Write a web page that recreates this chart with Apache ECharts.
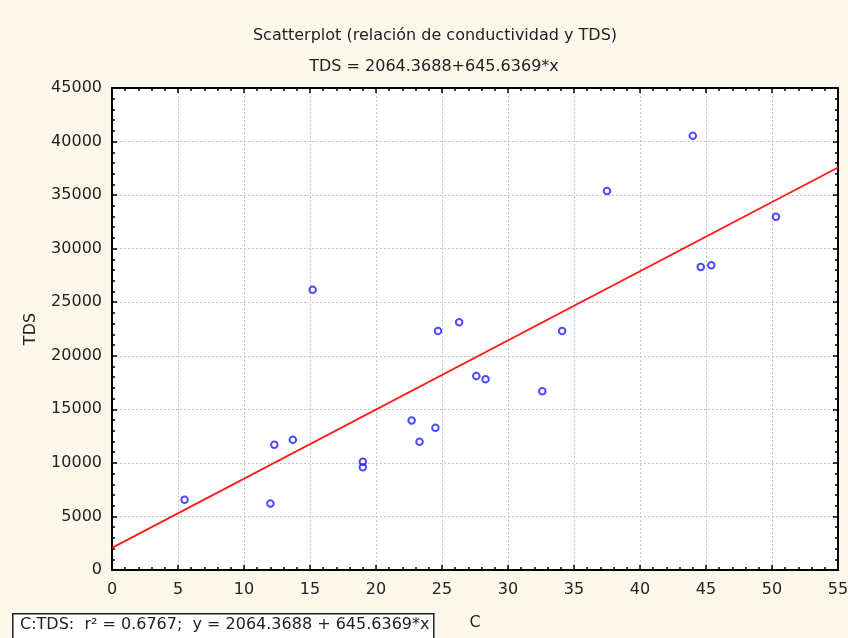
<!DOCTYPE html>
<html>
<head>
<meta charset="utf-8">
<script src="https://cdn.jsdelivr.net/npm/echarts@6/dist/echarts.min.js"></script>
<style>
html, body { margin: 0; padding: 0; background: #fdf8ec; }
#graph { width: 848px; height: 638px; }
</style>
</head>
<body>
<div id="graph"></div>
<script>
// conductividad (C) y TDS
var condC = [5.5, 12.0, 12.3, 13.7, 15.2, 19.0, 19.0, 22.7, 23.3, 24.5, 24.7, 26.3, 27.6, 28.3, 32.6, 34.1, 37.5, 44.0, 44.6, 45.4, 50.3];
var tdsVal = [6550, 6200, 11700, 12170, 26170, 9600, 10110, 13950, 11980, 13290, 22310, 23130, 18110, 17800, 16680, 22310, 35380, 40550, 28290, 28450, 32990];
// recta de ajuste, extremos leidos
var fitX = [0, 55];
var fitY = [2064, 37574];
var xTicks = [0, 55, 5];
var yTicks = [0, 45000, 5000];

var fontFam = '"DejaVu Sans", Arial, sans-serif';

function graphRender() {
	var myChart = echarts.init(document.getElementById('graph'));

	var points = [];
	for (let i = 0; i < condC.length; i++) {
		points.push([condC[i], tdsVal[i]]);
	}
	var line = [];
	for (let i = 0; i < fitX.length; i++) {
		line.push([fitX[i], fitY[i]]);
	}

	var gridLine = { show: true, lineStyle: { color: '#c4c4c4', type: [2, 2], width: 1 } };
	var frameLine = { show: true, onZero: false, lineStyle: { color: '#000', width: 2 } };
	var tickIn = { show: true, inside: true, length: 5, lineStyle: { color: '#000', width: 1.5 } };
	var minorIn = { show: true, splitNumber: 5, length: 3, lineStyle: { color: '#000', width: 1.5 } };
	var labelStyle = { color: '#222', fontSize: 16, fontFamily: fontFam };

	var option = {
		backgroundColor: '#fdf8ec',
		animation: false,
		title: [{
			text: 'Scatterplot (relación de conductividad y TDS)',
			left: 430, top: 23, textAlign: 'center',
			textStyle: { fontSize: 16, fontWeight: 'normal', color: '#222', fontFamily: fontFam }
		}, {
			text: 'TDS = 2064.3688+645.6369*x',
			left: 429, top: 54, textAlign: 'center',
			textStyle: { fontSize: 16, fontWeight: 'normal', color: '#222', fontFamily: fontFam }
		}],
		grid: {
			left: 112, right: 10, top: 88, bottom: 68,
			outerBoundsMode: 'none', containLabel: false,
			show: true, backgroundColor: '#fff', borderWidth: 0
		},
		xAxis: [{
			type: 'value', min: xTicks[0], max: xTicks[1], interval: xTicks[2],
			name: 'C', nameLocation: 'middle', nameGap: 45,
			nameTextStyle: labelStyle,
			axisLine: frameLine, axisTick: tickIn, minorTick: minorIn,
			splitLine: gridLine,
			axisLabel: Object.assign({ margin: 12 }, labelStyle)
		}, {
			type: 'value', position: 'top', min: xTicks[0], max: xTicks[1], interval: xTicks[2],
			axisLine: frameLine, axisTick: tickIn, minorTick: minorIn,
			splitLine: { show: false }, axisLabel: { show: false }
		}],
		yAxis: [{
			type: 'value', min: yTicks[0], max: yTicks[1], interval: yTicks[2],
			name: 'TDS', nameLocation: 'middle', nameGap: 73,
			nameTextStyle: labelStyle,
			axisLine: frameLine, axisTick: tickIn, minorTick: minorIn,
			splitLine: gridLine,
			axisLabel: Object.assign({ margin: 10, formatter: function (v) { return String(v); } }, labelStyle)
		}, {
			type: 'value', position: 'right', min: yTicks[0], max: yTicks[1], interval: yTicks[2],
			axisLine: frameLine, axisTick: tickIn, minorTick: minorIn,
			splitLine: { show: false }, axisLabel: { show: false }
		}],
		series: [{
			type: 'line',
			data: line,
			showSymbol: false,
			lineStyle: { color: '#ff1a1a', width: 1.8 },
			z: 3
		}, {
			type: 'scatter',
			data: points,
			symbol: 'circle',
			symbolSize: 6.5,
			itemStyle: { color: 'rgba(255,255,255,0)', borderColor: '#1f1fff', borderWidth: 2 },
			z: 4
		}],
		graphic: [{
			type: 'rect',
			left: 12, top: 613,
			shape: { width: 421, height: 26 },
			style: { fill: '#fff', stroke: '#222', lineWidth: 1.5 }
		}, {
			type: 'text',
			left: 20, top: 617,
			style: {
				text: 'C:TDS:  r² = 0.6767;  y = 2064.3688 + 645.6369*x',
				fill: '#222', fontSize: 16, fontFamily: fontFam
			}
		}]
	};

	myChart.setOption(option);
}
graphRender();
</script>
</body>
</html>
